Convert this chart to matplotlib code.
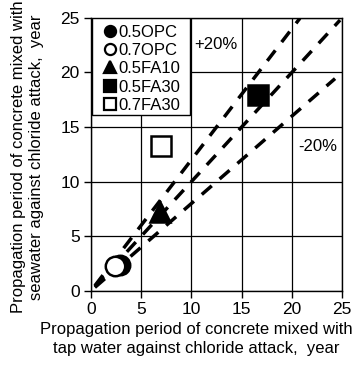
import matplotlib
matplotlib.use("Agg")
import matplotlib.pyplot as plt
from matplotlib.patches import Rectangle
import numpy as np

plt.rcParams["font.family"] = ["Liberation Sans", "DejaVu Sans"]

# series: (label, marker, filled, tap water x, seawater y)
labels = ["0.5OPC", "0.7OPC", "0.5FA10", "0.5FA30", "0.7FA30"]
markers = ["o", "o", "^", "s", "s"]
filled = [True, False, True, True, False]
tap_x = [2.9, 2.4, 6.9, 16.6, 7.0]
sea_y = [2.4, 2.3, 7.2, 17.9, 13.3]

ratios = [1.2, 1.0, 0.8]
x_ends = [20.8, 24.8, 24.3]

fig = plt.figure(figsize=(3.62, 3.65), dpi=100)
ax = fig.add_axes([0.251, 0.203, 0.694, 0.748])

for r, xe in zip(ratios, x_ends):
    xs = np.array([0.4, xe])
    ax.plot(xs, r * xs, color="black", lw=2.5, ls=(0, (3.8, 3.0)), zorder=2)

for i in range(len(labels)):
    ax.plot(tap_x[i], sea_y[i], marker=markers[i], ls="none",
            ms=14 if markers[i] != "^" else 15,
            mfc="black" if filled[i] else "white", mec="black",
            mew=1.8, zorder=3 + i)

# legend box drawn by hand (it is wider than its entries)
ax.add_patch(Rectangle((0.1, 16.1), 9.8, 8.9, facecolor="white", edgecolor="black",
                       lw=1.0, zorder=9))
handles = []
for lab, mk, f in zip(labels, markers, filled):
    h, = ax.plot([], [], marker=mk, ls="none", ms=8,
                 mfc="black" if f else "white", mec="black", mew=1.6, label=lab)
    handles.append(h)
leg = ax.legend(handles=handles, loc="upper left", bbox_to_anchor=(0.0, 1.0), fontsize=12,
                handlelength=1.5, handletextpad=-0.25, labelspacing=0.2,
                borderpad=0.3, borderaxespad=0.1, frameon=False)
leg.set_zorder(10)

ax.text(12.4, 22.6, "+20%", fontsize=12, ha="center", va="center")
ax.text(22.6, 13.2, "-20%", fontsize=12, ha="center", va="center")

ax.set_xlim(0, 25)
ax.set_ylim(0, 25)
ax.set_xticks([0, 5, 10, 15, 20, 25])
ax.set_yticks([0, 5, 10, 15, 20, 25])
ax.grid(True, color="black", lw=0.9)
ax.set_axisbelow(True)
for s in ax.spines.values():
    s.set_linewidth(1.0)
ax.tick_params(direction="out", length=5, width=1, labelsize=12.5, pad=3)

fig.text(196 / 362, 1 - 339 / 365,
         "Propagation period of concrete mixed with\ntap water against chloride attack,  year",
         fontsize=12, ha="center", va="center", linespacing=1.3)
fig.text(28 / 362, 1 - 157 / 365,
         "Propagation period of concrete mixed with\nseawater against chloride attack,  year",
         fontsize=12, ha="center", va="center", rotation=90, linespacing=1.25)

fig.savefig("out.png", dpi=100)
